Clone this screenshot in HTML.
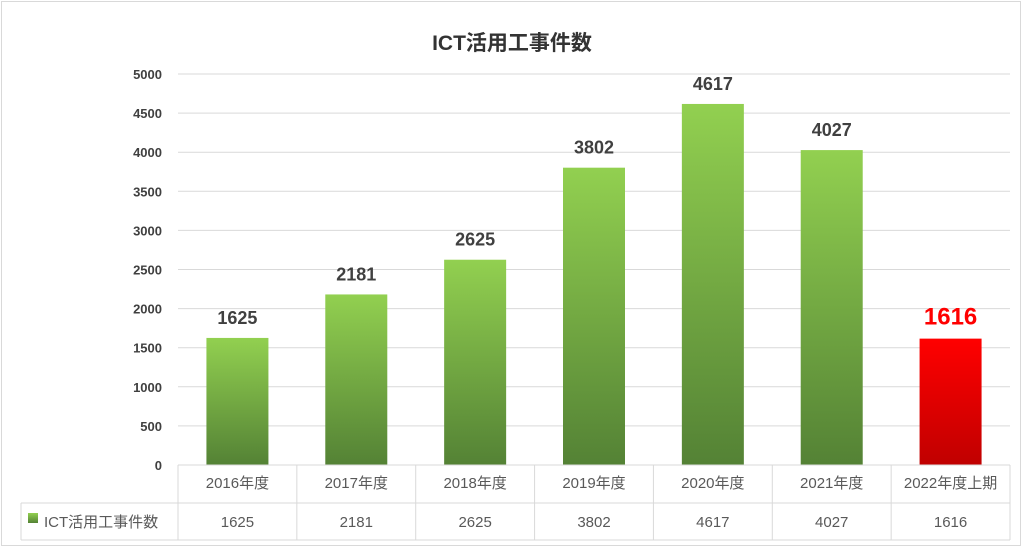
<!DOCTYPE html>
<html><head><meta charset="utf-8"><style>
body{margin:0;background:#fff;}
svg{display:block;font-family:"Liberation Sans","Noto Sans CJK JP",sans-serif;}
</style></head><body>
<svg id="chart" width="1024" height="556" viewBox="0 0 1024 556">
<defs>
<linearGradient id="gG" x1="0" y1="0" x2="0" y2="1"><stop offset="0" stop-color="#92d050"/><stop offset="1" stop-color="#548235"/></linearGradient>
<linearGradient id="gR" x1="0" y1="0" x2="0" y2="1"><stop offset="0" stop-color="#ff0000"/><stop offset="1" stop-color="#c00000"/></linearGradient>
</defs>
<rect x="1.5" y="1.5" width="1019" height="544" fill="#fff" stroke="#d9d9d9"/>
<text x="512" y="50" text-anchor="middle" font-size="21" font-weight="bold" fill="#333">ICT活用工事件数</text>
<g id="grid"></g><g id="bars"></g><g id="table"></g>
</svg>
<script>
const categories=["2016年度","2017年度","2018年度","2019年度","2020年度","2021年度","2022年度上期"];
const values=[1625,2181,2625,3802,4617,4027,1616];
const ticks=[0,500,1000,1500,2000,2500,3000,3500,4000,4500,5000];
const NS="http://www.w3.org/2000/svg";
const X0=178,X1=1010,Y0=465,Y1=74,MAX=5000;
const cw=(X1-X0)/categories.length;
const y=v=>Y0-(v/MAX)*(Y0-Y1);
const cx=i=>X0+cw*(i+0.5);
function mk(t,a,p){const e=document.createElementNS(NS,t);for(const k in a)e.setAttribute(k,a[k]);p.appendChild(e);return e;}
const grid=document.getElementById('grid'),bars=document.getElementById('bars'),table=document.getElementById('table');
ticks.forEach(t=>{
 const l=mk('line',{x1:X0,x2:X1,y1:y(t),y2:y(t),stroke:'#d9d9d9','stroke-width':1},grid);
 
 
 const tx=mk('text',{x:162,y:y(t)+5,'text-anchor':'end','font-size':13,'font-weight':'bold',fill:'#404040'},grid);
 tx.textContent=t;
 
 
});
values.forEach((v,i)=>{
 const last=i===values.length-1;
 const r=mk('rect',{x:cx(i)-31,y:y(v),width:62,height:Y0-y(v),fill:last?'url(#gR)':'url(#gG)'},bars);
 
 
 const t=mk('text',{x:cx(i),y:y(v)-14,'text-anchor':'middle','font-size':last?24:18,'font-weight':'bold',fill:last?'#ff0000':'#404040'},bars);
 t.textContent=v;
 
 
});
// table
const R1=503,R2=540;
const st={stroke:'#d9d9d9','stroke-width':1};
[[X0,Y0,X1,Y0],[21,R1,X1,R1],[21,R2,X1,R2],[21,R1,21,R2],[X1,Y0,X1,R2]].forEach(a=>{const l=mk('line',Object.assign({x1:a[0],y1:a[1],x2:a[2],y2:a[3]},st),table);});
for(let i=0;i<categories.length;i++){
 const l=mk('line',Object.assign({x1:X0+cw*i,y1:Y0,x2:X0+cw*i,y2:R2},st),table);
 
 
 const c=mk('text',{x:cx(i),y:488,'text-anchor':'middle','font-size':15,fill:'#595959'},table);
 c.textContent=categories[i];
 
 
 const v=mk('text',{x:cx(i),y:527,'text-anchor':'middle','font-size':15,fill:'#595959'},table);
 v.textContent=values[i];
 
 
}
const k=mk('rect',{x:28,y:513,width:10,height:10,fill:'url(#gG)'},table);


const lt=mk('text',{x:44,y:527,'font-size':15,fill:'#595959'},table);
lt.textContent='ICT活用工事件数';


</script>
</body></html>
